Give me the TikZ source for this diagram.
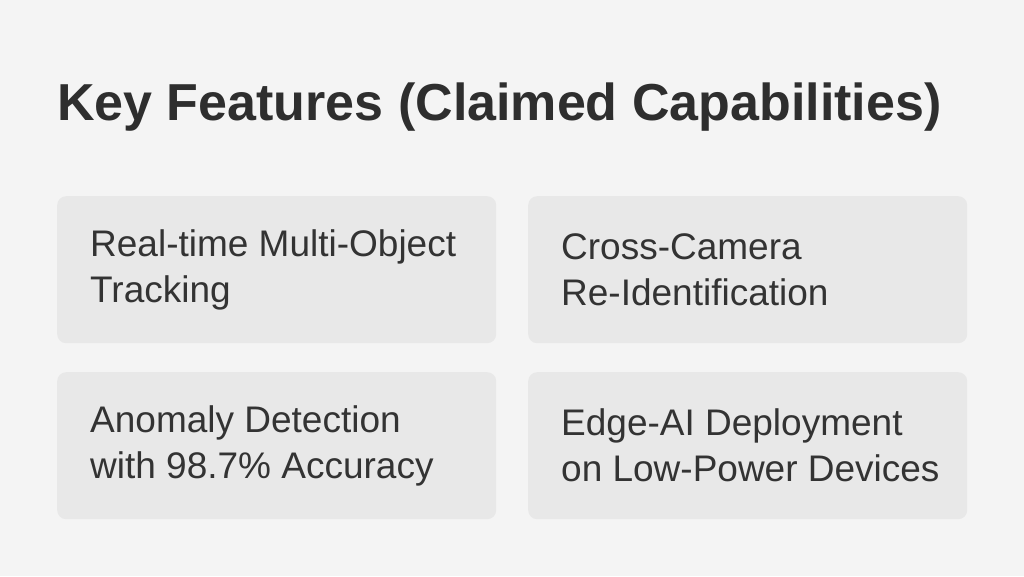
\documentclass[tikz,border=0pt]{standalone}
\usepackage{fontspec}
\setmainfont{Liberation Sans}
\usetikzlibrary{positioning}
\definecolor{pagebg}{HTML}{F4F4F4}
\definecolor{cardbg}{HTML}{E8E8E8}
\definecolor{inkgray}{HTML}{333333}
\tikzset{
  card/.style = {fill=cardbg, draw=none, rounded corners=9pt, minimum width=439pt, minimum height=147pt, anchor=north west},
  cardtext/.style = {text=inkgray, font=\fontsize{37}{46}\selectfont, align=left, anchor=west, inner sep=0pt}
}
\begin{document}
\begin{tikzpicture}[x=1pt,y=1pt]
    \fill[pagebg] (0,0) rectangle (1024,576);
    \useasboundingbox (0,0) rectangle (1024,576);

    % title
    \node[text=inkgray!90!black, font=\fontsize{52}{56}\selectfont\bfseries, anchor=west, inner sep=0pt] (title) at (57,469) {Key Features (Claimed Capabilities)};

    % cards
    \node[card] (mot)  at (57,380)  {};
    \node[card] (reid) at (528,380) {};
    \node[card] (anom) at (57,204)  {};
    \node[card] (edge) at (528,204) {};

    \node[cardtext] at ([xshift=33pt]mot.west)  {Real-time Multi-Object\\Tracking};
    \node[cardtext] at ([xshift=33pt]reid.west) {Cross-Camera\\Re-Identification};
    \node[cardtext] at ([xshift=33pt]anom.west) {Anomaly Detection\\with 98.7\% Accuracy};
    \node[cardtext] at ([xshift=33pt]edge.west) {Edge-AI Deployment\\on Low-Power Devices};
\end{tikzpicture}
\end{document}
